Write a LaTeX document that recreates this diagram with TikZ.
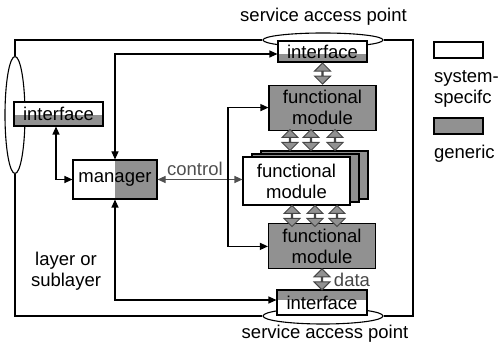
\documentclass[tikz,border=0pt]{standalone}
\usepackage{fontspec}
\setmainfont{Liberation Sans}
\usetikzlibrary{arrows.meta, positioning, calc, shapes.geometric, shapes.arrows, shadows}
\definecolor{gengray}{RGB}{145,145,145}
\definecolor{ctlgray}{RGB}{80,80,80}
\definecolor{dgray}{RGB}{70,70,70}

\begin{document}
\begin{tikzpicture}[
    x=1pt, y=-1pt,
    font=\fontsize{18.5}{21}\selectfont,
    line width=1.1pt,
    >={Triangle[length=8pt,width=7pt]},
    box/.style={rectangle, draw, fill=white, inner sep=0pt, align=center},
    module/.style={box, minimum width=107pt, minimum height=45pt},
    iface/.style={box, minimum width=89pt},
    lowshade/.style={path picture={\fill[gengray]
      ($(path picture bounding box.north west)!#1!(path picture bounding box.south west)$)
      rectangle (path picture bounding box.south east);}},
    topshade/.style={path picture={\fill[gengray] (path picture bounding box.north west)
      rectangle ($(path picture bounding box.north east)!#1!(path picture bounding box.south east)$);}},
    halfshade/.style={path picture={\fill[gengray] (path picture bounding box.north)
      rectangle (path picture bounding box.south east);}},
    sap/.style={ellipse, draw, fill=white, inner sep=0pt},
    dblarr/.style={double arrow, rotate=90, draw=dgray, fill=gengray, line width=1pt,
                   minimum height=21pt, minimum width=16pt, double arrow head extend=5pt,
                   inner sep=0pt}
  ]
  \useasboundingbox (0,0) rectangle (501,344);

  % service access points
  \node[sap, minimum width=120pt, minimum height=14pt] (sapTop) at (323,40) {};
  \node[sap, minimum width=120pt, minimum height=16pt] (sapBot) at (323,316) {};
  \node[sap, minimum width=20pt, minimum height=117pt] (sapLeft) at (15,115) {};
  \coordinate (frameR) at (413,40);
  \draw (sapLeft.north) |- (sapTop.west);
  \draw (sapTop.east) -- (frameR) |- (sapBot.east);
  \draw (sapBot.west) -| (sapLeft.south);

  \node (sapTopLbl) at (323.5,17) {service access point};
  \node (sapBotLbl) at (325,334) {service access point};

  % interfaces and modules
  \node[iface, minimum height=21pt, lowshade=0.62] (ifTop) at (322.5,51.5) {interface};
  \node[iface, minimum width=90pt, minimum height=25pt, topshade=0.4] (ifBot) at (322,302.5) {interface};
  \node[iface, minimum height=24pt, lowshade=0.54] (ifLeft) at (58.5,114) {interface};

  \node[module, fill=gengray] (fmTop) [below=22pt of ifTop] {functional\\module};
  \node[module, minimum height=48pt,
        double copy shadow={shadow xshift=9pt, shadow yshift=3pt, fill=gengray, draw}]
    (fmMid) at (296.5,181) {functional\\module};
  \node[module, fill=gengray] (fmBot) [above=20pt of ifBot] {functional\\module};

  \node[box, halfshade, minimum width=84pt, minimum height=39pt] (mgr) at (115,179.5) {manager};

  \node[align=center] (layerLbl) at (66,271) {layer or\\sublayer};

  % data exchange
  \node[dblarr] (dIf) at ($(ifTop.south)!0.5!(fmTop.north)$) {};
  \node[dblarr] (dUpA) at (290,140) {};
  \node[dblarr] (dUpB) at (311,140) {};
  \node[dblarr] (dUpC) at (335,140) {};
  \node[dblarr] (dLoA) at (292,216) {};
  \node[dblarr] (dLoB) at (315,216) {};
  \node[dblarr] (dLoC) at (337,216) {};
  \node[dblarr] (dData) at ($(fmBot.south)!0.5!(ifBot.north)$) {};
  \node[text=dgray, inner sep=1pt] (dataLbl) at ($(dData.center)+(30,0)$) {data};

  % control paths
  \draw[<->] (mgr.west) -| ([xshift=-2.5pt]ifLeft.south);
  \draw[<->] (mgr.north) |- ([yshift=-2.5pt]ifTop.west);
  \draw[<->] (mgr.south) |- ([yshift=2.5pt]ifBot.west);
  \draw[<->, ctlgray] (mgr.east) -- node[above, pos=0.44] {control} (mgr.east -| fmMid.west);
  \coordinate (ctl) at ($(mgr.east)!0.83!(mgr.east -| fmMid.west)$);
  \draw[->] (ctl) |- (fmTop.west);
  \draw[->] (ctl) |- (fmBot.west);

  % legend
  \node[box, minimum width=49pt, minimum height=16pt] (lgSys) at (458.5,50) {};
  \node[below=11pt of lgSys.south west, anchor=north west, inner sep=0pt, align=left]
    (txtSys) {system-\\specifc};
  \node[box, fill=gengray, minimum width=49pt, minimum height=16pt,
        below=10pt of txtSys.south west, anchor=north west] (lgGen) {};
  \node[below=10pt of lgGen.south west, anchor=north west, inner sep=0pt] (txtGen) {generic};
\end{tikzpicture}
\end{document}
